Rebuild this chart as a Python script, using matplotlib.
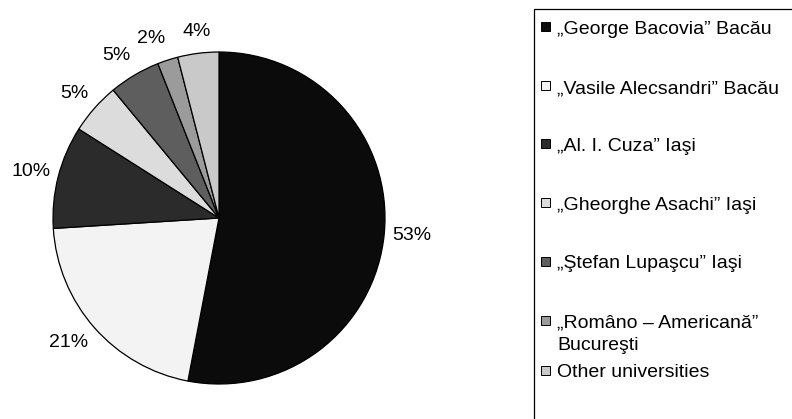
import numpy as np
import matplotlib.pyplot as plt
from matplotlib.patches import Rectangle

plt.rcParams['font.family'] = ['Liberation Sans', 'DejaVu Sans']

universities = ['„George Bacovia” Bacău',
                '„Vasile Alecsandri” Bacău',
                '„Al. I. Cuza” Iaşi',
                '„Gheorghe Asachi” Iaşi',
                '„Ştefan Lupaşcu” Iaşi',
                '„Româno – Americană”\nBucureşti',
                'Other universities']
shares = [53, 21, 10, 5, 5, 2, 4]
pct_labels = ['%d%%' % v for v in shares]

colors = ['#0b0b0b', '#f3f3f3', '#2b2b2b', '#dcdcdc', '#5e5e5e', '#9b9b9b', '#c9c9c9']

W, H = 792, 419
fig = plt.figure(figsize=(W / 100, H / 100), dpi=100)

# pie centre ~ (219, 218) px, radius ~166 px
cx, cy, r = 219, 218, 166
ax = fig.add_axes([(cx - r) / W, (H - cy - r) / H, 2 * r / W, 2 * r / H])
wedges, texts = ax.pie(shares, labels=pct_labels, colors=colors, startangle=90,
                       counterclock=False, labeldistance=1.05,
                       wedgeprops=dict(edgecolor='black', linewidth=0.9),
                       textprops=dict(fontsize=14, color='black'))
ax.set_xlim(-1, 1)
ax.set_ylim(-1, 1)
ax.axis('off')

# excel-like label placement: outside the rim, centred when near vertical
for w, t in zip(wedges, texts):
    mid = np.deg2rad((w.theta1 + w.theta2) / 2)
    c, s = np.cos(mid), np.sin(mid)
    t.set_position((1.05 * c, 1.05 * s + 14 / r * s))
    t.set_va('center')
    if abs(c) < 0.2:
        t.set_ha('center')
    else:
        t.set_ha('left' if c > 0 else 'right')

# legend box (runs off the right and bottom edges)
frame = Rectangle((534 / W, -0.2), 0.5, (H - 9) / H + 0.2, transform=fig.transFigure,
                  facecolor='none', edgecolor='black', linewidth=0.9, clip_on=False)
fig.add_artist(frame)

row_y = [27, 86, 144, 203, 261, 320, 370]  # px from top, centre of first line
for name, col, y in zip(universities, colors, row_y):
    sq = Rectangle((541 / W, (H - y - 4.5) / H), 9 / W, 9 / H, transform=fig.transFigure,
                   facecolor=col, edgecolor='black', linewidth=0.7)
    fig.add_artist(sq)
    for k, line in enumerate(name.split('\n')):
        fig.text(557 / W, (H - y - 7 - 23 * k) / H, line, fontsize=14,
                 va='baseline', ha='left')

plt.savefig('out.png', dpi=100)
